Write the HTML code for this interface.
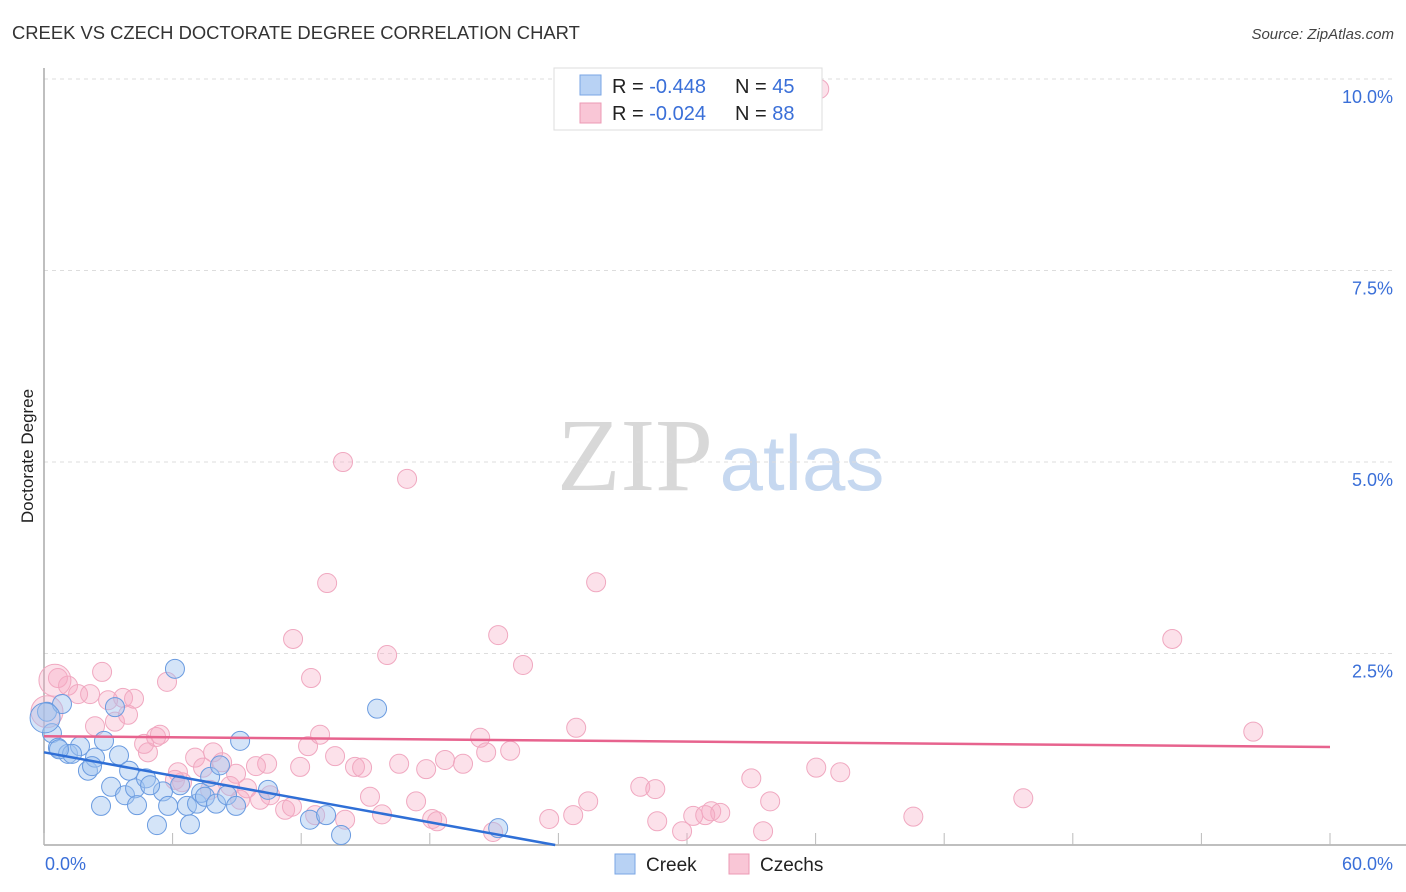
<!DOCTYPE html>
<html><head><meta charset="utf-8"><style>
body{margin:0;background:#fff;width:1406px;height:892px;overflow:hidden;font-family:"Liberation Sans",sans-serif;}
svg{display:block}
</style></head><body>
<svg id="chart" width="1406" height="892">
<text x="12" y="39" font-size="18.4" fill="#333">CREEK VS CZECH DOCTORATE DEGREE CORRELATION CHART</text>
<text x="1394" y="39" font-size="15" fill="#444" font-style="italic" text-anchor="end">Source: ZipAtlas.com</text>
<text x="33" y="456" font-size="17" fill="#222" text-anchor="middle" transform="rotate(-90 33 456)">Doctorate Degree</text>
<g><text x="635" y="490" font-family="Liberation Serif,serif" font-size="104" fill="#d8d8d8" text-anchor="middle">ZIP</text><text x="802" y="490" font-size="78" fill="#c6d8f0" text-anchor="middle">atlas</text></g>
<g id="grid"></g><g id="axes"></g><g id="pts"></g><g id="lines"></g>
<g>
<rect x="554" y="68" width="268" height="62" fill="#fff" stroke="#ddd"/>
<rect x="580" y="75" width="21" height="20" fill="#b8d2f4" stroke="#7aa6e4"/>
<rect x="580" y="103" width="21" height="20" fill="#f9c6d6" stroke="#ec9ab4"/>
<text x="612" y="93" font-size="20" fill="#222">R = <tspan fill="#3a6fd8">-0.448</tspan></text>
<text x="735" y="93" font-size="20" fill="#222">N = <tspan fill="#3a6fd8">45</tspan></text>
<text x="612" y="120" font-size="20" fill="#222">R = <tspan fill="#3a6fd8">-0.024</tspan></text>
<text x="735" y="120" font-size="20" fill="#222">N = <tspan fill="#3a6fd8">88</tspan></text>
</g>
<g>
<rect x="615" y="854" width="20" height="20" fill="#b8d2f4" stroke="#7aa6e4"/>
<text x="646" y="871" font-size="19" fill="#222">Creek</text>
<rect x="729" y="854" width="20" height="20" fill="#f9c6d6" stroke="#ec9ab4"/>
<text x="760" y="871" font-size="19" fill="#222">Czechs</text>
</g>
</svg>
<script>
const yTicks=[2.5,5,7.5,10];
const yTickLabels=["2.5%","5.0%","7.5%","10.0%"];
const xTicks=[0,6,12,18,24,30,36,42,48,54,60];
const xEndLabels=["0.0%","60.0%"];
const creekX=[0.14,0.84,0.37,0.65,1.12,1.68,1.31,2.05,2.38,2.80,2.24,3.50,3.97,2.66,3.13,3.78,4.25,4.76,4.34,5.27,5.55,5.79,6.11,6.35,6.67,6.81,7.14,7.33,7.51,7.75,8.03,8.21,8.54,8.96,9.15,10.45,12.41,13.16,13.86,15.54,21.19,3.31,4.95,0.05,0.7];
const creekY=[1.74,1.84,1.46,1.27,1.19,1.29,1.19,0.97,1.14,1.36,1.03,1.17,0.97,0.51,0.76,0.65,0.74,0.87,0.52,0.26,0.70,0.51,2.30,0.78,0.51,0.27,0.54,0.68,0.63,0.89,0.54,1.04,0.65,0.51,1.36,0.72,0.33,0.39,0.13,1.78,0.22,1.80,0.78,1.66,1.25];
const czechX=[36.17,13.95,16.94,13.21,25.76,21.19,11.62,52.64,16.01,22.35,5.74,12.46,0.65,1.12,2.71,0.14,0.51,1.59,2.15,2.99,3.69,4.20,3.31,2.38,3.92,4.85,4.67,5.23,5.41,7.05,7.89,8.31,8.96,9.47,10.41,9.89,12.32,12.88,13.58,11.95,14.51,14.84,16.57,17.83,18.71,19.55,20.35,20.63,21.75,24.83,27.82,28.52,30.29,31.13,31.55,33.00,33.88,36.03,37.15,40.56,45.69,56.42,6.44,6.25,7.42,8.68,10.55,11.25,11.57,14.05,15.21,15.77,17.36,18.11,18.34,20.95,23.57,24.69,25.39,28.61,29.77,30.85,33.55,7.75,6.11,12.65,9.15,10.08];
const czechY=[9.87,5.00,4.78,3.42,3.43,2.74,2.69,2.69,2.48,2.35,2.13,2.18,2.18,2.08,2.26,1.74,2.15,1.97,1.97,1.89,1.92,1.91,1.61,1.55,1.70,1.21,1.32,1.41,1.44,1.14,1.21,1.08,0.93,0.74,1.06,1.03,1.29,1.44,1.16,1.02,1.02,1.01,1.06,0.99,1.11,1.06,1.40,1.21,1.23,1.53,0.76,0.73,0.38,0.44,0.42,0.87,0.57,1.01,0.95,0.37,0.61,1.48,0.82,0.95,1.01,0.77,0.65,0.46,0.50,0.33,0.63,0.40,0.57,0.34,0.31,0.17,0.34,0.39,0.57,0.31,0.18,0.39,0.18,0.72,0.85,0.39,0.59,0.59];
const creekTrend=[[0,1.21],[23.85,0]];
const czechTrend=[[0,1.42],[60,1.28]];
const NS='http://www.w3.org/2000/svg';
const X0=44,X1=1330,Y0=845,Y10=79;
const xs=v=>X0+(X1-X0)*v/60;
const ys=v=>Y0-(Y0-Y10)*v/10;
function mk(tag,attrs,parent){const e=document.createElementNS(NS,tag);for(const k in attrs)e.setAttribute(k,attrs[k]);document.getElementById(parent).appendChild(e);return e;}
yTicks.forEach((t,i)=>{
 const g=mk('line',{x1:X0,x2:1394,y1:ys(t),y2:ys(t),stroke:'#ddd','stroke-dasharray':'4,4'},'grid');
 
 
 const l=mk('text',{x:1393,y:ys(t)+24,'font-size':18,fill:'#3a6fd8','text-anchor':'end'},'grid');
 l.textContent=yTickLabels[i];
 
 
});
const ya=mk('line',{x1:X0,x2:X0,y1:68,y2:Y0,stroke:'#aaa','stroke-width':1.5},'axes');


const xa=mk('line',{x1:X0,x2:1406,y1:Y0,y2:Y0,stroke:'#aaa','stroke-width':1.5},'axes');


xTicks.forEach(t=>{
 const k=mk('line',{x1:xs(t),x2:xs(t),y1:Y0-12,y2:Y0,stroke:'#bbb'},'axes');
 
 
});
[[0,'start',45],[1,'end',1393]].forEach(([i,a,x])=>{
 const l=mk('text',{x:x,y:870,'font-size':18,fill:'#3a6fd8','text-anchor':a},'axes');
 l.textContent=xEndLabels[i];
 
 
});
czechX.forEach((v,i)=>{
 const r=(i===15||i===16)?16:9.5;
 const c=mk('circle',{cx:xs(v),cy:ys(czechY[i]),r:r,fill:'rgba(247,170,195,0.35)',stroke:'#f0a8c0','stroke-width':1},'pts');
 
 
});
creekX.forEach((v,i)=>{
 const r=(i===43)?15:9.5;
 const c=mk('circle',{cx:xs(v),cy:ys(creekY[i]),r:r,fill:'rgba(160,195,240,0.45)',stroke:'#6a9be0','stroke-width':1},'pts');
 
 
});
const pl=mk('line',{x1:xs(czechTrend[0][0]),y1:ys(czechTrend[0][1]),x2:xs(czechTrend[1][0]),y2:ys(czechTrend[1][1]),stroke:'#e7638e','stroke-width':2.5},'lines');


const bl=mk('line',{x1:xs(creekTrend[0][0]),y1:ys(creekTrend[0][1]),x2:xs(creekTrend[1][0]),y2:ys(creekTrend[1][1]),stroke:'#2f6fd6','stroke-width':2.5},'lines');


</script>
</body></html>
